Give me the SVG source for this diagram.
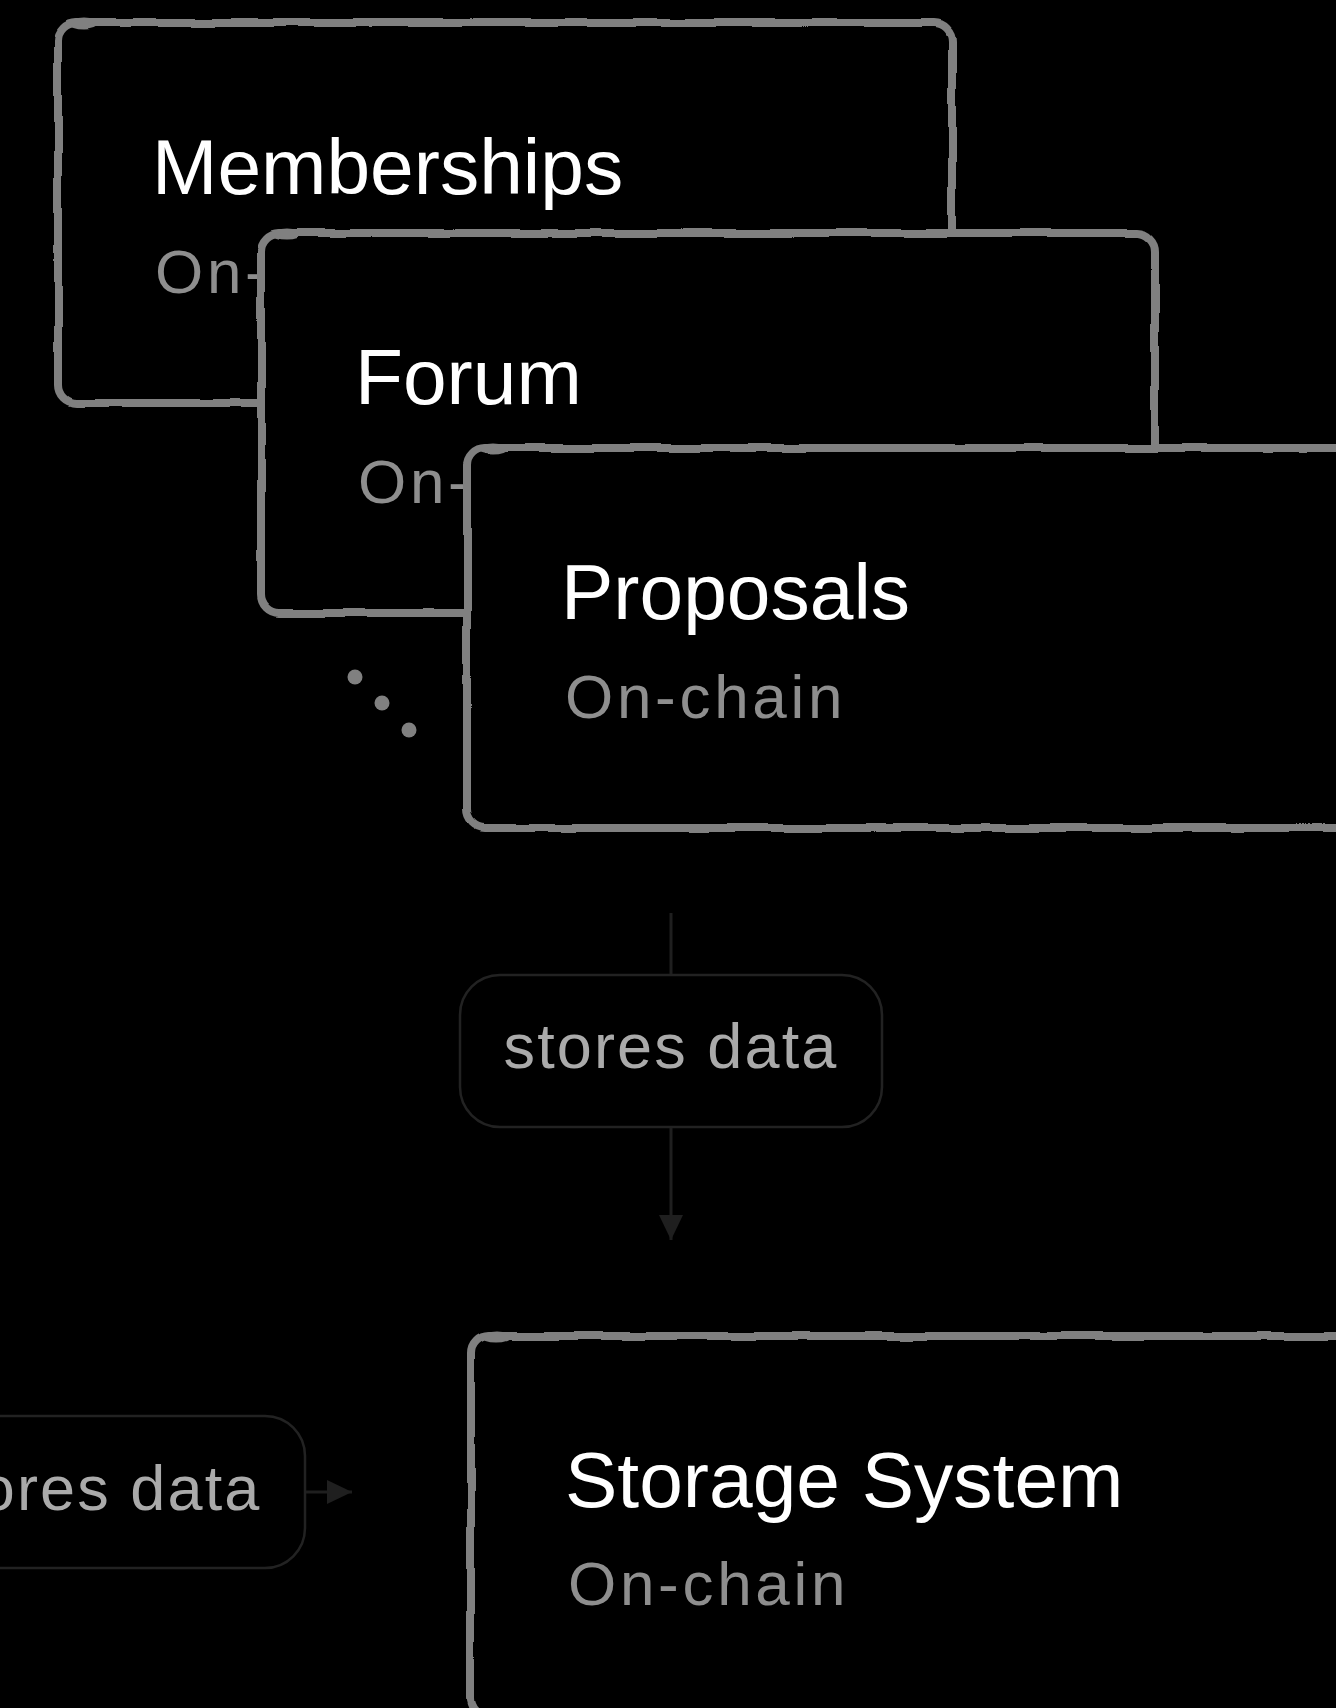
<svg xmlns="http://www.w3.org/2000/svg" width="1336" height="1708" viewBox="0 0 1336 1708">
  <defs>
    <filter id="rough" filterUnits="userSpaceOnUse" x="-200" y="-200" width="1800" height="2200">
      <feTurbulence type="fractalNoise" baseFrequency="0.018" numOctaves="2" seed="7" result="n"/>
      <feDisplacementMap in="SourceGraphic" in2="n" scale="5" xChannelSelector="R" yChannelSelector="G"/>
    </filter>
    <marker id="arrow" markerUnits="userSpaceOnUse" markerWidth="26" markerHeight="26" refX="25" refY="12" orient="auto" viewBox="0 0 26 26">
      <path d="M0,0 L25,12 L0,24 Z" fill="#1f1f1f"/>
    </marker>
    <style>
      .bg { fill: #000000; }
      .fill { fill: #000000; stroke: none; }
      .edge { fill: none; stroke: #808080; stroke-width: 8; stroke-linejoin: round; }
      .blob { fill: #808080; }
      .title { font-family: "Liberation Sans", Arial, sans-serif; font-size: 78.5px; fill: #ffffff; }
      .sub { font-family: "Liberation Sans", Arial, sans-serif; font-size: 62px; fill: #8e8e8e; letter-spacing: 3.7px; }
      .conn { fill: none; stroke: #1f1f1f; stroke-width: 3; }
      .lbox { fill: #000000; stroke: #222222; stroke-width: 2.5; }
      .ltext { font-family: "Liberation Sans", Arial, sans-serif; font-size: 63px; fill: #aaaaaa; letter-spacing: 2.1px; text-anchor: middle; }
      .dot { fill: #808080; }
    </style>
  </defs>
  <rect class="bg" x="0" y="0" width="1336" height="1708"/>

  <g id="node-memberships">
    <rect class="fill" x="58" y="23" width="894" height="380" rx="18"/>
    <g filter="url(#rough)">
      <rect class="edge" x="58" y="23" width="894" height="380" rx="18"/>
      <ellipse class="blob" cx="84" cy="24" rx="15" ry="5.5"/>
    </g>
    <text class="title" x="152" y="194">Memberships</text>
    <text class="sub" x="155" y="293">On-chain</text>
  </g>

  <g id="node-forum">
    <rect class="fill" x="261" y="233" width="894" height="380" rx="18"/>
    <g filter="url(#rough)">
      <rect class="edge" x="261" y="233" width="894" height="380" rx="18"/>
      <ellipse class="blob" cx="287" cy="234" rx="15" ry="5.5"/>
    </g>
    <text class="title" x="355" y="404">Forum</text>
    <text class="sub" x="358" y="503">On-chain</text>
  </g>

  <g id="node-proposals">
    <rect class="fill" x="467" y="448" width="894" height="380" rx="18"/>
    <g filter="url(#rough)">
      <rect class="edge" x="467" y="448" width="894" height="380" rx="18"/>
      <ellipse class="blob" cx="493" cy="449" rx="15" ry="5.5"/>
    </g>
    <text class="title" x="561" y="619">Proposals</text>
    <text class="sub" x="565" y="718">On-chain</text>
  </g>

  <g id="ellipsis">
    <circle class="dot" cx="355" cy="677" r="7.5"/>
    <circle class="dot" cx="382" cy="703" r="7.5"/>
    <circle class="dot" cx="409" cy="730" r="7.5"/>
  </g>

  <g id="connectors">
    <path class="conn" d="M671 913 V1240" marker-end="url(#arrow)"/>
    <rect class="lbox" x="460" y="975" width="422" height="152" rx="40"/>
    <text class="ltext" x="671" y="1068">stores data</text>

    <path class="conn" d="M200 1492 H352" marker-end="url(#arrow)"/>
    <rect class="lbox" x="-117" y="1416" width="422" height="152" rx="40"/>
    <text class="ltext" x="94" y="1510">stores data</text>
  </g>

  <g id="node-storage">
    <rect class="fill" x="471" y="1336" width="894" height="380" rx="18"/>
    <g filter="url(#rough)">
      <rect class="edge" x="471" y="1336" width="894" height="380" rx="18"/>
      <ellipse class="blob" cx="497" cy="1337" rx="15" ry="5.5"/>
    </g>
    <text class="title" x="565" y="1507">Storage System</text>
    <text class="sub" x="568" y="1605">On-chain</text>
  </g>
</svg>
